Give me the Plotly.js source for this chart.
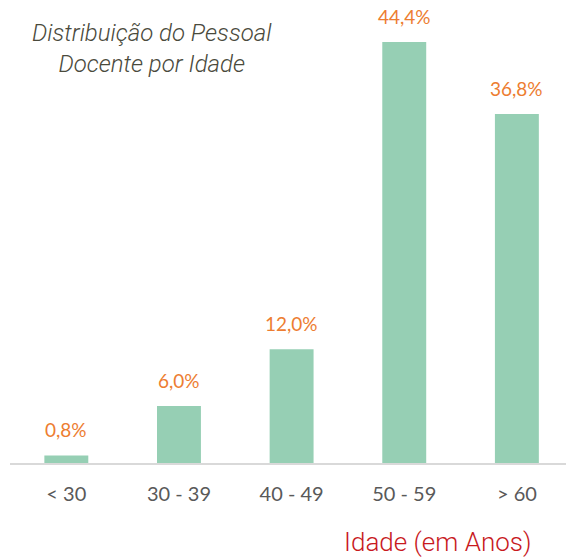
<!DOCTYPE html>
<html><head><meta charset="utf-8">
<script src="https://cdn.plot.ly/plotly-3.0.1.min.js"></script>
<style>html,body{margin:0;padding:0;background:#fff;}#chart{width:566px;height:557px;}</style>
</head><body><div id="chart"></div>
<script>
const categories = ["< 30", "30 - 39", "40 - 49", "50 - 59", "> 60"];
const values = [0.8, 6.0, 12.0, 44.4, 36.8];
const valueLabels = ["0,8%", "6,0%", "12,0%", "44,4%", "36,8%"];
const chartTitle = "Distribuição do Pessoal<br>Docente por Idade";
const axisTitle = "Idade (em Anos)";

const trace = {
  type: "bar", x: categories, y: values,
  marker: {color: "#96cfb4"}, width: 0.39, hoverinfo: "none"
};
const annotations = categories.map((c, i) => ({
  x: c, y: values[i], xref: "x", yref: "y", text: valueLabels[i],
  showarrow: false, yanchor: "bottom", yshift: 12,
  font: {family: "Lato, 'Open Sans', sans-serif", size: 19, color: "#ed7d31"}
}));
annotations.push({
  xref: "paper", yref: "paper", x: 0.255, y: 1, yanchor: "top", xanchor: "center",
  yshift: -17, text: chartTitle, showarrow: false, align: "center",
  font: {family: "Roboto, sans-serif", size: 24, color: "#4a4a3c", style: "italic", weight: 300}
});
annotations.push({
  xref: "paper", yref: "paper", x: 0.768, y: 0, yanchor: "middle", xanchor: "center",
  yshift: -79, text: axisTitle, showarrow: false,
  font: {family: "Roboto, sans-serif", size: 26, color: "#c8191e", weight: 300}
});
const layout = {
  width: 566, height: 557,
  margin: {l: 10, r: 0, t: 0, b: 94},
  paper_bgcolor: "#fff", plot_bgcolor: "#fff",
  showlegend: false,
  xaxis: {
    type: "category", range: [-0.5, 4.436], showgrid: false, zeroline: false,
    showline: true, linecolor: "#d9d9d9", linewidth: 2, ticks: "",
    tickfont: {family: "Lato, 'Open Sans', sans-serif", size: 20, color: "#595959"},
    ticklabelstandoff: 12
  },
  yaxis: {range: [0, 48.83], visible: false, showgrid: false, zeroline: false},
  annotations: annotations
};
Plotly.newPlot("chart", [trace], layout, {staticPlot: true, displayModeBar: false});
</script></body></html>
